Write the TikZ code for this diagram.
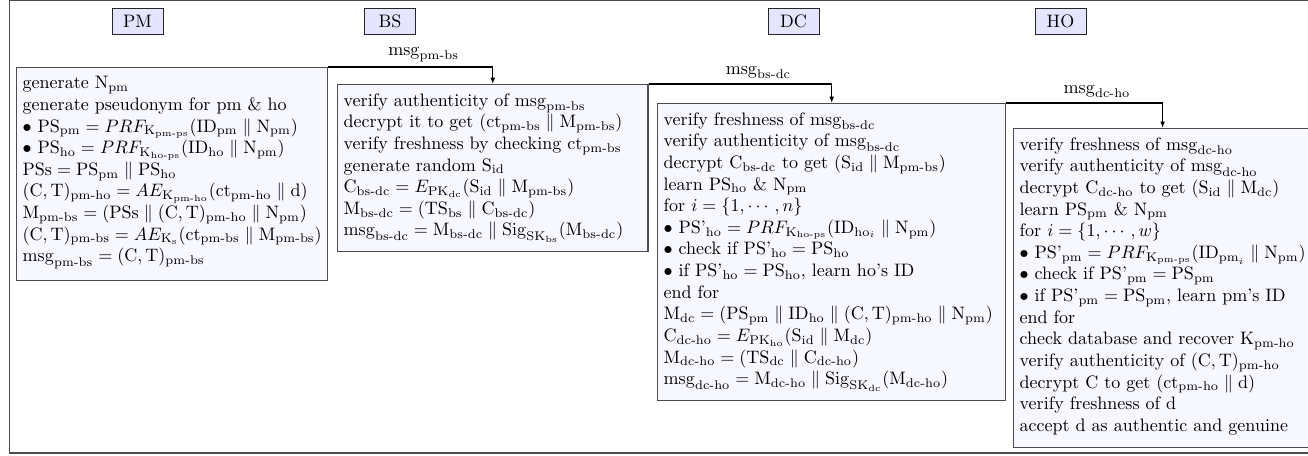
\documentclass[tikz,border=0pt]{standalone}
\usepackage{amsmath}
\usetikzlibrary{arrows.meta,calc}
\newcommand{\rs}[2]{\mathrm{#1}_{\text{#2}}}
\newcommand{\CT}{(\mathrm{C},\mathrm{T})}
\newcommand{\psp}[1]{\text{PS'}_{\text{#1}}}
\begin{document}
\begin{tikzpicture}[x=0.555pt,y=-0.555pt,
  hdr/.style={draw=black!85, fill=blue!10, minimum width=1cm, minimum height=0.5cm, inner sep=2pt},
  box/.style={draw=black!70, fill=blue!3, align=left, anchor=north west, inner xsep=3.4pt, inner ysep=5pt, line width=0.6pt},
  msgarrow/.style={draw=black, line width=0.6pt, -{Latex[length=3.5pt,width=2.6pt]}},
  lbl/.style={above, inner sep=2.5pt}]
\useasboundingbox (0,0) rectangle (1308,455);
\draw[black!70, line width=0.8pt] (1400,0.5) -- (9.5,0.5) -- (9.5,453) -- (1400,453);

\node[hdr] (hpm) at (137.5,21.5) {PM};
\node[hdr] (hbs) at (390,21.5) {BS};
\node[hdr] (hdc) at (793.5,21.5) {DC};
\node[hdr] (hho) at (1060.5,21.5) {HO};

\node[box] (pm) at (16,67) {%
generate $\rs{N}{pm}$\\
generate pseudonym for pm \& ho\\
$\bullet$ $\rs{PS}{pm} = PRF_{\rs{K}{pm-ps}}(\rs{ID}{pm} \parallel \rs{N}{pm})$\\
$\bullet$ $\rs{PS}{ho} = PRF_{\rs{K}{ho-ps}}(\rs{ID}{ho} \parallel \rs{N}{pm})$\\
$\mathrm{PSs} = \rs{PS}{pm} \parallel \rs{PS}{ho}$\\
$\CT_{\text{pm-ho}} = AE_{\rs{K}{pm-ho}}(\rs{ct}{pm-ho} \parallel \mathrm{d})$\\
$\rs{M}{pm-bs} = (\mathrm{PSs} \parallel \CT_{\text{pm-ho}} \parallel \rs{N}{pm})$\\
$\CT_{\text{pm-bs}} = AE_{\rs{K}{s}}(\rs{ct}{pm-bs} \parallel \rs{M}{pm-bs})$\\
$\rs{msg}{pm-bs} = \CT_{\text{pm-bs}}$\rule[-5.5pt]{0pt}{1pt}};

\node[box, text width=165.5pt] (bs) at (337,84) {%
verify authenticity of $\rs{msg}{pm-bs}$\\
decrypt it to get $(\rs{ct}{pm-bs} \parallel \rs{M}{pm-bs})$\\
verify freshness by checking $\rs{ct}{pm-bs}$\\
generate random $\rs{S}{id}$\\
$\rs{C}{bs-dc} = E_{\rs{PK}{dc}}(\rs{S}{id} \parallel \rs{M}{pm-bs})$\\
$\rs{M}{bs-dc} = (\rs{TS}{bs} \parallel \rs{C}{bs-dc})$\\
$\rs{msg}{bs-dc} = \rs{M}{bs-dc} \parallel \mathrm{Sig}_{\rs{SK}{bs}}(\rs{M}{bs-dc})$};

\node[box, text width=186.5pt] (dc) at (657,103) {%
verify freshness of $\rs{msg}{bs-dc}$\\
verify authenticity of $\rs{msg}{bs-dc}$\\
decrypt $\rs{C}{bs-dc}$ to get $(\rs{S}{id} \parallel \rs{M}{pm-bs})$\\
learn $\rs{PS}{ho}$ \& $\rs{N}{pm}$\\
for $i = \{1, \cdots, n\}$\\
$\bullet$ $\psp{ho} = PRF_{\rs{K}{ho-ps}}(\mathrm{ID}_{\mathrm{ho}_i} \parallel \rs{N}{pm})$\\
$\bullet$ check if $\psp{ho} = \rs{PS}{ho}$\\
$\bullet$ if $\psp{ho} = \rs{PS}{ho}$, learn ho's ID\\
end for\\
$\rs{M}{dc} = (\rs{PS}{pm} \parallel \rs{ID}{ho} \parallel \CT_{\text{pm-ho}} \parallel \rs{N}{pm})$\\
$\rs{C}{dc-ho} = E_{\rs{PK}{ho}}(\rs{S}{id} \parallel \rs{M}{dc})$\\
$\rs{M}{dc-ho} = (\rs{TS}{dc} \parallel \rs{C}{dc-ho})$\\
$\rs{msg}{dc-ho} = \rs{M}{dc-ho} \parallel \mathrm{Sig}_{\rs{SK}{dc}}(\rs{M}{dc-ho})$};

\node[box] (ho) at (1013,128) {%
verify freshness of $\rs{msg}{dc-ho}$\\
verify authenticity of $\rs{msg}{dc-ho}$\\
decrypt $\rs{C}{dc-ho}$ to get $(\rs{S}{id} \parallel \rs{M}{dc})$\\
learn $\rs{PS}{pm}$ \& $\rs{N}{pm}$\\
for $i = \{1, \cdots, w\}$\\
$\bullet$ $\psp{pm} = PRF_{\rs{K}{pm-ps}}(\mathrm{ID}_{\mathrm{pm}_i} \parallel \rs{N}{pm})$\\
$\bullet$ check if $\psp{pm} = \rs{PS}{pm}$\\
$\bullet$ if $\psp{pm} = \rs{PS}{pm}$, learn pm's ID\\
end for\\
check database and recover $\rs{K}{pm-ho}$\\
verify authenticity of $\CT_{\text{pm-ho}}$\\
decrypt C to get $(\rs{ct}{pm-ho} \parallel \mathrm{d})$\\
verify freshness of d\\
accept d as authentic and genuine\rule[-4pt]{0pt}{1pt}};

\draw[msgarrow] (pm.north east) -| (bs.north) node[lbl, pos=0.29] {$\rs{msg}{pm-bs}$};
\draw[msgarrow] (bs.north east) -| (dc.north) node[lbl, pos=0.3] {$\rs{msg}{bs-dc}$};
\draw[msgarrow] (dc.north east) -| (ho.north) node[lbl, pos=0.29] {$\rs{msg}{dc-ho}$};
\end{tikzpicture}
\end{document}
